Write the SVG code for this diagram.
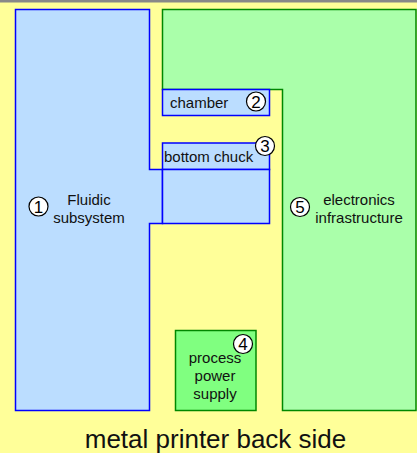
<svg xmlns="http://www.w3.org/2000/svg" width="417" height="453" viewBox="0 0 417 453">
<style>
.blue{fill:#bbddff;stroke:#0000ff;stroke-width:1.5}
.green{fill:#aaffaa;stroke:#008800;stroke-width:1.5}
.green2{fill:#80ff80;stroke:#008800;stroke-width:1.5}
.lbl{font-family:"Liberation Sans",Arial,sans-serif;font-size:15px;fill:#111}
.num{fill:#fff;stroke:#000;stroke-width:1.2}
.numt{font-family:"Liberation Sans",Arial,sans-serif;font-size:17px;fill:#000;text-anchor:middle}
.title{font-family:"Liberation Sans",Arial,sans-serif;font-size:26px;fill:#111;text-anchor:middle}
</style>
<rect x="0" y="0" width="417" height="453" fill="#ffff99"/>
<rect x="0" y="0" width="417" height="2.5" fill="#888888"/>
<g id="connectors"></g>
<g id="electronics">
<polygon class="green" points="162.5,9.5 416,9.5 416,410.5 282.5,410.5 282.5,89.5 162.5,89.5"/>
<circle class="num" cx="300" cy="207" r="9.5"/>
<text class="numt" x="300" y="213">5</text>
<text class="lbl" x="359" y="205" text-anchor="middle">electronics</text>
<text class="lbl" x="359" y="223" text-anchor="middle">infrastructure</text>
</g>
<g id="fluidic">
<polygon class="blue" points="15.5,9.5 149.5,9.5 149.5,169.5 162.5,169.5 162.5,223.5 149.5,223.5 149.5,410.5 15.5,410.5"/>
<circle class="num" cx="38.5" cy="206.5" r="9.5"/>
<text class="numt" x="38.5" y="212.5">1</text>
<text class="lbl" x="89" y="205" text-anchor="middle">Fluidic</text>
<text class="lbl" x="89" y="223" text-anchor="middle">subsystem</text>
</g>
<g id="chamber">
<rect class="blue" x="162.5" y="89.5" width="107" height="26"/>
<text class="lbl" x="170" y="107.5">chamber</text>
<circle class="num" cx="256" cy="101.5" r="9.5"/>
<text class="numt" x="256" y="107.5">2</text>
</g>
<g id="bottom-chuck">
<rect class="blue" x="162.5" y="143" width="107" height="26.5"/>
<rect class="blue" x="162.5" y="169.5" width="107" height="54"/>
<text class="lbl" x="164" y="161.5">bottom chuck</text>
<circle class="num" cx="265" cy="146" r="9.5"/>
<text class="numt" x="265" y="152">3</text>
</g>
<g id="power-supply">
<rect class="green2" x="175.5" y="330.5" width="80.5" height="80"/>
<text class="lbl" x="215" y="363" text-anchor="middle">process</text>
<text class="lbl" x="215" y="381" text-anchor="middle">power</text>
<text class="lbl" x="215" y="399" text-anchor="middle">supply</text>
<circle class="num" cx="243" cy="344" r="9.5"/>
<text class="numt" x="243" y="350">4</text>
</g>
<text class="title" x="215.5" y="448">metal printer back side</text>
</svg>
